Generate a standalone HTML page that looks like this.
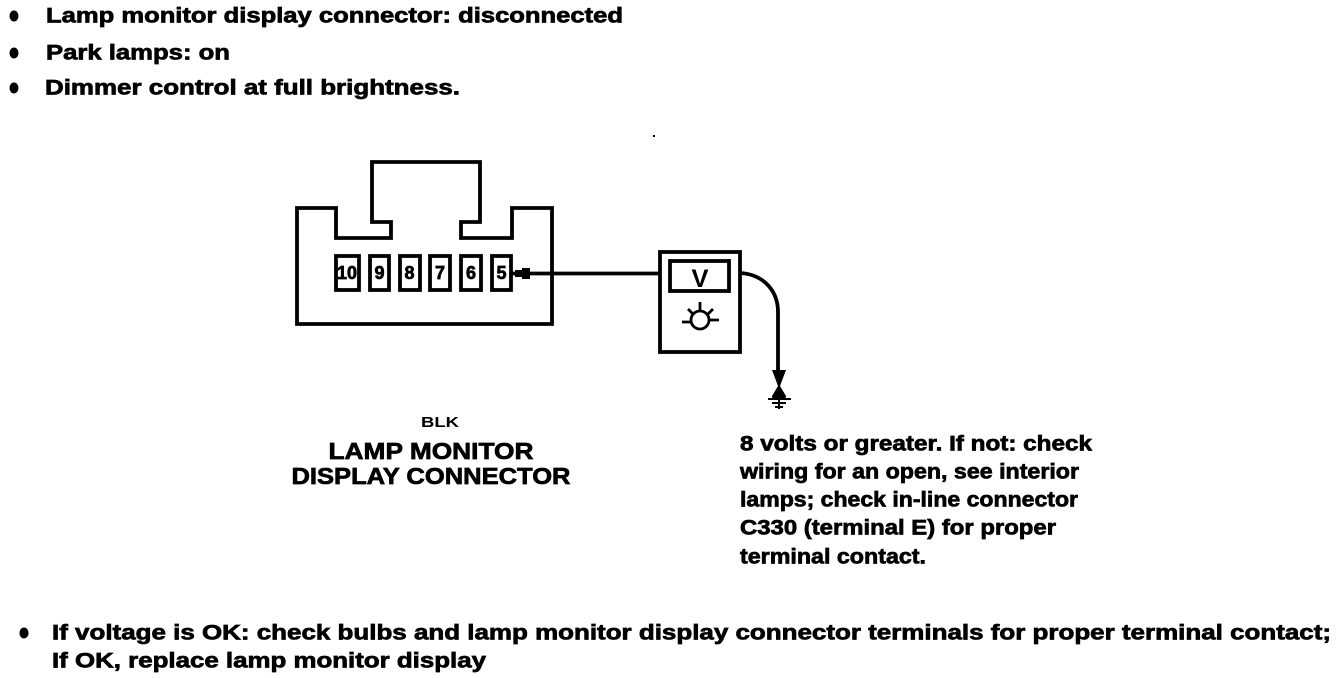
<!DOCTYPE html>
<html>
<head>
<meta charset="utf-8">
<style>
html,body{margin:0;padding:0;background:#fff;width:1344px;height:678px;overflow:hidden}
svg{display:block}
text{font-family:"Liberation Sans",Arial,sans-serif;font-weight:bold;fill:#000;stroke:#000;stroke-width:.7px}
</style>
</head>
<body>
<svg width="1344" height="678" viewBox="0 0 1344 678" xmlns="http://www.w3.org/2000/svg">
<g font-size="21">
<ellipse cx="14" cy="16" rx="4.500" ry="5.500"/><ellipse cx="14" cy="53" rx="4.500" ry="5.500"/><ellipse cx="14" cy="88" rx="4.500" ry="5.500"/>
<text x="46" y="22.500" textLength="577" lengthAdjust="spacingAndGlyphs">Lamp monitor display connector: disconnected</text>
<text x="46" y="59.500" textLength="184" lengthAdjust="spacingAndGlyphs">Park lamps: on</text>
<text x="45" y="94.500" textLength="415" lengthAdjust="spacingAndGlyphs">Dimmer control at full brightness.</text>
</g>
<rect x="653" y="135" width="2" height="2"/>
<g fill="none" stroke="#000" stroke-width="3.800">
<path d="M297 208H336V238H391V222H372V162H480V222H461V238H512V208H552V324H297Z"/>
<rect x="336" y="256" width="23" height="34"/>
<rect x="370" y="256" width="19" height="34"/>
<rect x="400" y="256" width="20" height="34"/>
<rect x="430" y="256" width="20" height="34"/>
<rect x="461" y="256" width="20" height="34"/>
<rect x="492" y="256" width="19" height="34"/>
<rect x="660" y="252" width="80" height="100"/>
<rect x="670" y="261" width="59" height="30"/>
<path d="M512 273.500H659"/>
<path d="M741 273C765 275 778 292 778 312V375"/>
</g>
<g font-size="18" text-anchor="middle">
<text x="347" y="279" textLength="20" lengthAdjust="spacingAndGlyphs">10</text>
<text x="379.500" y="279">9</text>
<text x="409.500" y="279">8</text>
<text x="440" y="279">7</text>
<text x="471" y="279">6</text>
<text x="501.500" y="279">5</text>
</g>
<path d="M515 270L522 270L522 268L530 268V279L522 279L522 277L515 277Z"/>
<text x="700" y="287" font-size="25" text-anchor="middle" textLength="17" lengthAdjust="spacingAndGlyphs" style="stroke-width:0">V</text>
<g fill="none" stroke="#000" stroke-width="2.800">
<circle cx="700" cy="320" r="9"/>
<path d="M682 322H691M709 320H719M700 302V311M688 309L693 314M713 309L708 314"/>
</g>
<path d="M772 370H786L780 386L786 396Q787 399 779 399Q771 399 772 396L778 386Z"/>
<g stroke="#000" stroke-width="2" fill="none">
<path d="M768 399H791M772 403H786M775 407H783M779 399V409"/>
</g>
<text x="440" y="427" font-size="15" text-anchor="middle" textLength="38" lengthAdjust="spacingAndGlyphs" style="stroke-width:0">BLK</text>
<g font-size="23" text-anchor="middle">
<text x="431" y="459" textLength="205" lengthAdjust="spacingAndGlyphs">LAMP MONITOR</text>
<text x="431" y="484" textLength="279" lengthAdjust="spacingAndGlyphs">DISPLAY CONNECTOR</text>
</g>
<g font-size="21">
<text x="740" y="450.500" textLength="352" lengthAdjust="spacingAndGlyphs">8 volts or greater. If not: check</text>
<text x="740" y="478.500" textLength="339" lengthAdjust="spacingAndGlyphs">wiring for an open, see interior</text>
<text x="740" y="506.500" textLength="338" lengthAdjust="spacingAndGlyphs">lamps; check in-line connector</text>
<text x="740" y="534.500" textLength="316" lengthAdjust="spacingAndGlyphs">C330 (terminal E) for proper</text>
<text x="740" y="563.500" textLength="186" lengthAdjust="spacingAndGlyphs">terminal contact.</text>
<ellipse cx="24" cy="633" rx="4.500" ry="5.500"/>
<text x="52" y="639.500" textLength="1279" lengthAdjust="spacingAndGlyphs">If voltage is OK: check bulbs and lamp monitor display connector terminals for proper terminal contact;</text>
<text x="52" y="667.500" textLength="434" lengthAdjust="spacingAndGlyphs">If OK, replace lamp monitor display</text>
</g>
</svg>
</body>
</html>
